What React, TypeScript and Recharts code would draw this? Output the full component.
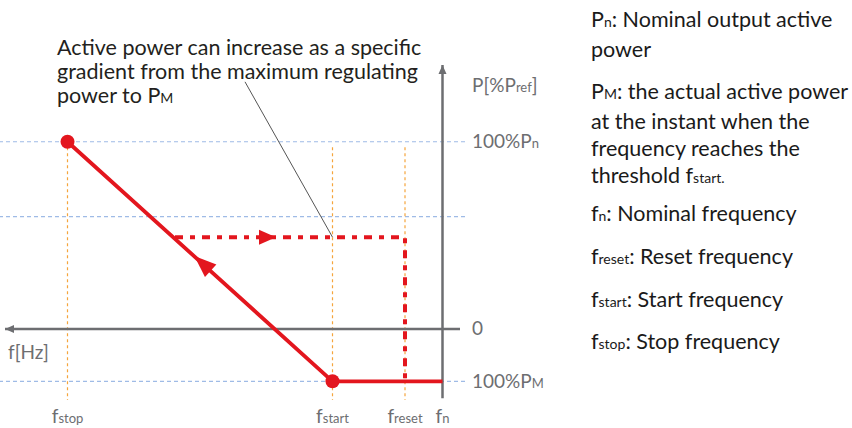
import { ComposedChart, Line, Scatter, XAxis, YAxis, ReferenceLine } from 'recharts';

document.body.style.margin = '0';

// frequency positions (Hz, f grows to the left) and power levels (% of Pref)
const freqTicks = [51.5, 50.44, 50.15, 50.0];
const freqTickNames = [['f', 'stop'], ['f', 'start'], ['f', 'reset'], ['f', 'n']];
const powerTicks = [100, 0, -28];
const powerTickNames = [['100%P', 'n'], ['0', ''], ['100%P', 'M']];
const gridLevels = [100, 60, -28];
const markerFreqs = [51.5, 50.44, 50.15];
const markerTop = 97;

const droopPath = [
  { f: 51.5, p: 100 },
  { f: 50.44, p: -28 },
  { f: 50.0, p: -28 },
];
const recoveryPath = [
  { f: 51.07, p: 49 },
  { f: 50.15, p: 49 },
  { f: 50.15, p: -28 },
];
const droopArrow = [{ f: 50.96, p: 35 }];
const recoveryArrow = [{ f: 50.7, p: 49 }];
const leaderLine = [
  { f: 50.79, p: 132 },
  { f: 50.44, p: 49 },
];
const freqAxisEnds = [51.75, 49.93];
const powerAxisEnds = [-37, 141];
const freqAxisTip = [{ f: 51.75, p: 0 }];
const powerAxisTip = [{ f: 50.0, p: 141 }];

const RED = '#e3161e';
const AXIS = '#6d6e71';
const FONT = 'Lato, "Open Sans", sans-serif';

function arrowShape(angle: number, len: number, width: number, atTip: boolean, color: string) {
  return (props: any) => {
    const { cx, cy } = props;
    const tip = atTip ? 0 : len / 2;
    const back = tip - len;
    return (
      <polygon
        points={`${tip},0 ${back},${-width / 2} ${back},${width / 2}`}
        fill={color}
        transform={`translate(${cx},${cy}) rotate(${angle})`}
      />
    );
  };
}

function FreqTick({ x, y, payload }: any) {
  const i = freqTicks.indexOf(payload.value);
  const [main, sub] = freqTickNames[i] || ['', ''];
  return (
    <text x={x} y={y + 23} textAnchor="middle" fill={AXIS} fontSize={19} fontFamily={FONT}>
      {main}
      <tspan fontSize={13}>{sub}</tspan>
    </text>
  );
}

function PowerTick({ x, y, payload }: any) {
  const i = powerTicks.indexOf(payload.value);
  const [main, sub] = powerTickNames[i] || ['', ''];
  return (
    <text x={x} y={y + 6.5} textAnchor="start" fill={AXIS} fontSize={19} fontFamily={FONT}>
      {main}
      <tspan fontSize={13}>{sub}</tspan>
    </text>
  );
}

const droopDot = (props: any) => {
  const { cx, cy, index } = props;
  if (index > 1) return <g key={index} />;
  return <circle key={index} cx={cx} cy={cy} r={7} fill={RED} />;
};

const textStyle: React.CSSProperties = {
  position: 'absolute',
  fontFamily: FONT,
  color: '#1a1a1a',
  fontSize: 21.5,
  whiteSpace: 'nowrap',
};
const subStyle: React.CSSProperties = { fontSize: 14 };

export default function App() {
  return (
    <div style={{ position: 'relative', width: 852, height: 428, background: '#fff', overflow: 'hidden' }}>
      <ComposedChart width={852} height={428} margin={{ top: 65, right: 307, bottom: 0, left: 0 }}>
        <XAxis
          type="number"
          dataKey="f"
          domain={[49.91, 51.77]}
          allowDataOverflow
          reversed
          ticks={freqTicks}
          axisLine={false}
          tickLine={false}
          tickSize={0}
          tickMargin={0}
          height={28}
          tick={FreqTick}
          interval={0}
        />
        <YAxis
          type="number"
          dataKey="p"
          orientation="right"
          domain={[-38, 141]}
          allowDataOverflow
          ticks={powerTicks}
          axisLine={false}
          tickLine={false}
          tickSize={0}
          tickMargin={7}
          width={80}
          tick={PowerTick}
          interval={0}
        />
        {gridLevels.map((p) => (
          <ReferenceLine key={'g' + p} y={p} stroke="#9fbbe6" strokeDasharray="4 3" strokeWidth={1.2} />
        ))}
        {markerFreqs.map((f) => (
          <ReferenceLine
            key={'m' + f}
            segment={[{ x: f, y: markerTop }, { x: f, y: -38 }]}
            stroke="#f5a53c"
            strokeDasharray="3 3"
            strokeWidth={1.2}
          />
        ))}
        <ReferenceLine
          segment={[{ x: freqAxisEnds[0], y: 0 }, { x: freqAxisEnds[1], y: 0 }]}
          stroke={AXIS}
          strokeWidth={2.5}
        />
        <ReferenceLine
          segment={[{ x: 50.0, y: powerAxisEnds[0] }, { x: 50.0, y: powerAxisEnds[1] }]}
          stroke={AXIS}
          strokeWidth={2.5}
        />
        <ReferenceLine
          segment={[
            { x: leaderLine[0].f, y: leaderLine[0].p },
            { x: leaderLine[1].f, y: leaderLine[1].p },
          ]}
          stroke="#555"
          strokeWidth={1}
        />
        <Line
          data={recoveryPath}
          dataKey="p"
          type="linear"
          stroke={RED}
          strokeWidth={4}
          strokeDasharray="8 7 5 7"
          dot={false}
          activeDot={false}
          isAnimationActive={false}
        />
        <Line
          data={droopPath}
          dataKey="p"
          type="linear"
          stroke={RED}
          strokeWidth={3.8}
          dot={droopDot}
          activeDot={false}
          isAnimationActive={false}
        />
        <Scatter data={droopArrow} shape={arrowShape(-137.95, 22, 17, false, RED)} isAnimationActive={false} />
        <Scatter data={recoveryArrow} shape={arrowShape(0, 17, 15, false, RED)} isAnimationActive={false} />
        <Scatter data={freqAxisTip} shape={arrowShape(180, 9, 8, true, AXIS)} isAnimationActive={false} />
        <Scatter data={powerAxisTip} shape={arrowShape(-90, 9, 8, true, AXIS)} isAnimationActive={false} />
      </ComposedChart>

      <div style={{ ...textStyle, left: 57, top: 34.7, lineHeight: '24px', color: '#231f20' }}>
        Active power can increase as a specific
        <br />
        gradient from the maximum regulating
        <br />
        power to P<span style={subStyle}>M</span>
      </div>
      <div style={{ ...textStyle, left: 472, top: 72.6, fontSize: 19, color: AXIS, lineHeight: '24px' }}>
        P[%P<span style={{ fontSize: 13 }}>ref</span>]
      </div>
      <div style={{ ...textStyle, left: 8, top: 340, fontSize: 19, color: AXIS, lineHeight: '24px' }}>f[Hz]</div>

      <div style={{ ...textStyle, left: 591, top: 6.4, lineHeight: '26.7px' }}>
        P<span style={subStyle}>n</span>: Nominal output active
        <br />
        power
      </div>
      <div style={{ ...textStyle, left: 591, top: 78.4, lineHeight: '26.7px' }}>
        P<span style={subStyle}>M</span>: the actual active power
        <br />
        at the instant when the
        <br />
        frequency reaches the
        <br />
        threshold f<span style={subStyle}>start.</span>
      </div>
      <div style={{ ...textStyle, left: 591, top: 200.4, lineHeight: '26.7px' }}>
        f<span style={subStyle}>n</span>: Nominal frequency
      </div>
      <div style={{ ...textStyle, left: 591, top: 243.4, lineHeight: '26.7px' }}>
        f<span style={subStyle}>reset</span>: Reset frequency
      </div>
      <div style={{ ...textStyle, left: 591, top: 286.4, lineHeight: '26.7px' }}>
        f<span style={subStyle}>start</span>: Start frequency
      </div>
      <div style={{ ...textStyle, left: 591, top: 328.4, lineHeight: '26.7px' }}>
        f<span style={subStyle}>stop</span>: Stop frequency
      </div>
    </div>
  );
}
